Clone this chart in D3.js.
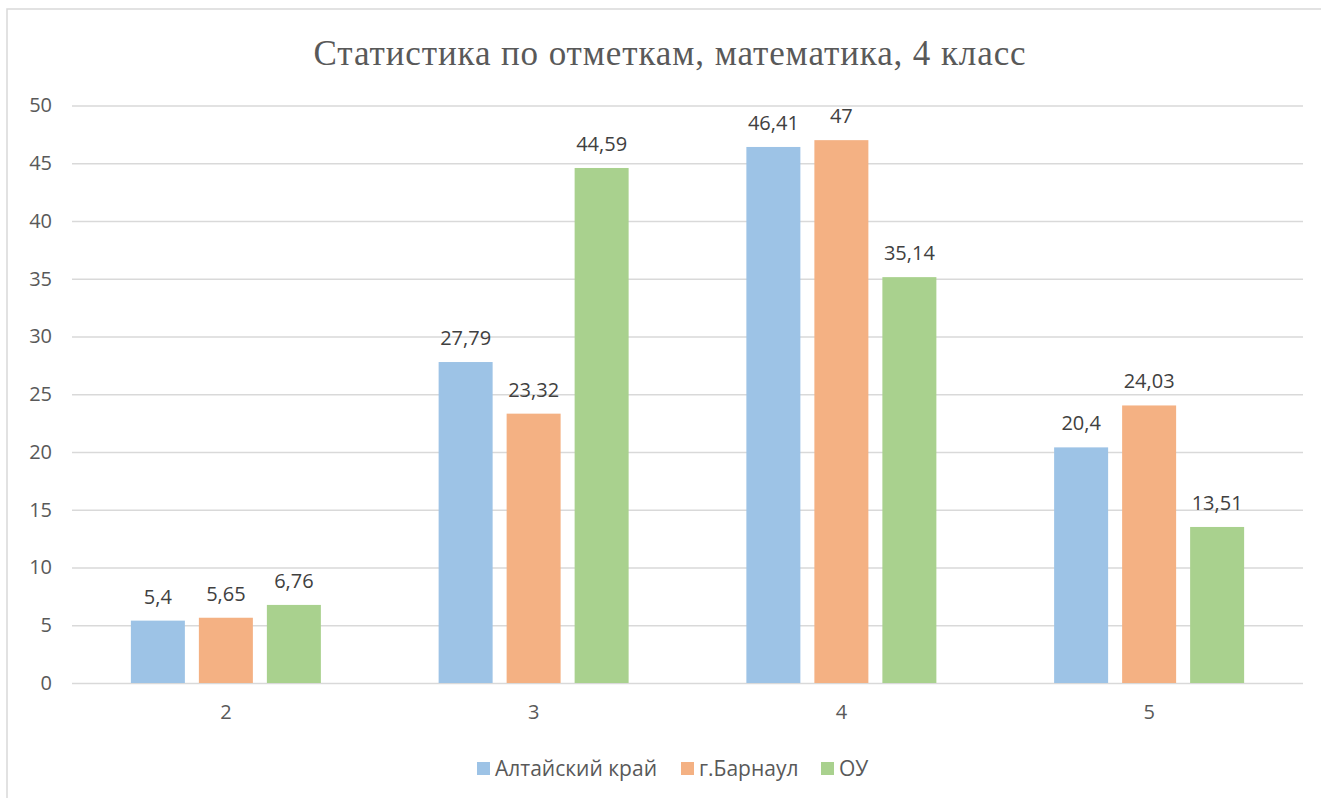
<!DOCTYPE html>
<html><head><meta charset="utf-8">
<script src="https://cdn.jsdelivr.net/npm/d3@7"></script>
<style>body{margin:0;background:#fff}svg{display:block}text{font-family:"Open Sans","Noto Sans",sans-serif}</style>
</head><body><svg id="c" width="1321" height="798"></svg>
<script>
const categories = ["2","3","4","5"];
const seriesNames = ["Алтайский край","г.Барнаул","ОУ"];
const altai = [5.4, 27.79, 46.41, 20.4];
const barnaul = [5.65, 23.32, 47, 24.03];
const ou = [6.76, 44.59, 35.14, 13.51];
const labelsAltai = ["5,4","27,79","46,41","20,4"];
const labelsBarnaul = ["5,65","23,32","47","24,03"];
const labelsOu = ["6,76","44,59","35,14","13,51"];
const yTicks = [0,5,10,15,20,25,30,35,40,45,50];
const title = "Статистика по отметкам, математика, 4 класс";

const colors = ["#9dc3e6","#f4b183","#a9d18e"];
const series = [altai, barnaul, ou];
const labels = [labelsAltai, labelsBarnaul, labelsOu];

const svg = d3.select("#c");
svg.append("rect").attr("x",7).attr("y",9).attr("width",1330).attr("height",800)
  .attr("fill","none").attr("stroke","#d9d9d9").attr("stroke-width",1.5);

const L=72, R=1303, T=105.5, B=683;
const x = d3.scaleBand().domain(categories).range([L,R]).paddingInner(0).paddingOuter(0);
const y = d3.scaleLinear().domain([0,50]).range([B,T]);

svg.append("text").attr("x",670).attr("y",65).attr("text-anchor","middle")
  .style("font-family","'Liberation Serif','Times New Roman',serif").style("font-size","35px")
  .style("letter-spacing","0.9px")
  .attr("fill","#595959").text(title);

const yAxis = d3.axisLeft(y).tickValues(yTicks).tickSize(-(R-L)).tickPadding(20).tickFormat(d3.format("d"));
const gy = svg.append("g").attr("transform",`translate(${L},0)`).call(yAxis);
gy.select(".domain").remove();
gy.selectAll(".tick line").attr("stroke","#d9d9d9").attr("stroke-width",1.5);
gy.selectAll(".tick text").attr("fill","#595959").style("font-size","20px").attr("x",-20);

const xAxis = d3.axisBottom(x).tickSize(0).tickPadding(22);
const gx = svg.append("g").attr("transform",`translate(0,${B})`).call(xAxis);
gx.select(".domain").remove();
gx.selectAll(".tick text").attr("fill","#595959").style("font-size","20px");

const barW = 54, step = 68;
const offset = si => (si-1)*step - barW/2;

series.forEach((s,si)=>{
  const g = svg.append("g");
  g.selectAll("rect").data(s).join("rect")
    .attr("x",(d,i)=>x(categories[i])+x.bandwidth()/2 + offset(si))
    .attr("width",barW)
    .attr("y",d=>y(d)).attr("height",d=>y(0)-y(d))
    .attr("fill",colors[si]);
  g.selectAll("text").data(s).join("text")
    .attr("x",(d,i)=>x(categories[i])+x.bandwidth()/2 + offset(si)+barW/2)
    .attr("y",d=>y(d)-17).attr("text-anchor","middle")
    .attr("fill","#404040").style("font-size","20px")
    .text((d,i)=>labels[si][i]);
});

const legX = [477, 681, 821];
seriesNames.forEach((n,i)=>{
  svg.append("rect").attr("x",legX[i]).attr("y",762).attr("width",13).attr("height",13).attr("fill",colors[i]);
  svg.append("text").attr("x",legX[i]+18).attr("y",776).attr("fill","#595959").style("font-size","21px").text(n);
});
</script></body></html>
